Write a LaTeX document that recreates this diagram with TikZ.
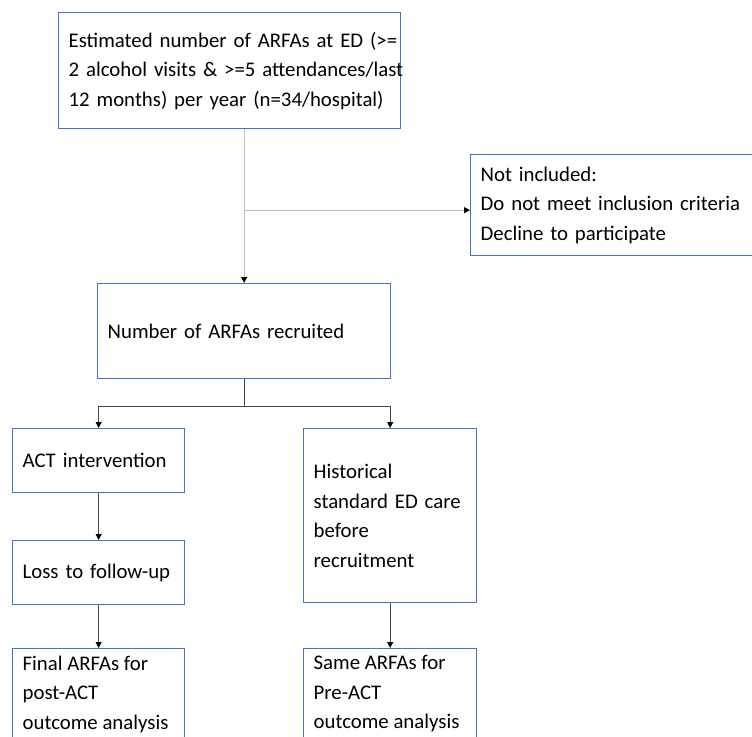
\documentclass[tikz,border=0pt]{standalone}
\usepackage{fontspec}
\setmainfont{Carlito}
\usetikzlibrary{arrows.meta,calc}
\definecolor{boxblue}{RGB}{68,114,196}
\definecolor{lightline}{RGB}{190,190,190}
\definecolor{darkline}{RGB}{70,70,70}
\begin{document}
\begin{tikzpicture}[x=1pt,y=-1pt,
  box/.style={draw=boxblue, line width=1.3pt, align=left, anchor=north west,
    inner xsep=10pt, inner ysep=0pt, font=\fontsize{20.8}{29.5}\selectfont},
  openbox/.style={draw=boxblue, line width=1.3pt, anchor=north west,
    inner xsep=10pt, inner ysep=7pt, font=\fontsize{20.8}{29.5}\selectfont},
  tip/.style={-{Triangle[length=6pt,width=6pt,color=black]}},
  light/.style={draw=lightline, line width=1pt, tip},
  dark/.style={draw=darkline, line width=1pt, tip}]
\useasboundingbox (0,0) rectangle (752,736);
\node[box, minimum width=342pt, minimum height=116pt, text width=322pt] (top) at (58,12)
  {\mbox{Estimated number of ARFAs at ED (>=}\\\mbox{2 alcohol visits \& >=5 attendances/last}\\\mbox{12 months) per year (n=34/hospital)}};
\node[box, minimum width=282pt, minimum height=101pt, text width=262pt] (notinc) at (470,154)
  {\mbox{Not included:}\\\mbox{Do not meet inclusion criteria}\\\mbox{Decline to participate}};
\node[box, minimum width=293pt, minimum height=95pt, text width=273pt] (recr) at (97,283)
  {\mbox{Number of ARFAs recruited}};
\node[box, minimum width=172pt, minimum height=64pt, text width=152pt] (act) at (12,428)
  {\mbox{ACT intervention}};
\node[box, minimum width=173pt, minimum height=174pt, text width=153pt] (hist) at (303,428)
  {\mbox{Historical}\\\mbox{standard ED care}\\\mbox{before}\\\mbox{recruitment}};
\node[box, minimum width=172pt, minimum height=64pt, text width=152pt] (loss) at (12,540)
  {\mbox{Loss to follow-up}};
\node[openbox] (final) at (12,648)
  {\parbox[t][115pt][t]{152pt}{\raggedright\mbox{Final ARFAs for}\\\mbox{post-ACT}\\\mbox{outcome analysis}}};
\node[openbox] (same) at (303,648)
  {\parbox[t][115pt][t]{153pt}{\raggedright\mbox{Same ARFAs for}\\\mbox{Pre-ACT}\\\mbox{outcome analysis}}};
\coordinate (branch) at ($(recr.north |- notinc.west)+(0,5)$);
\draw[light] (recr.north |- top.south) -- (recr.north);
\draw[light] (branch) -- (notinc.west |- branch);
\coordinate (split) at ($(recr.south)+(0,27)$);
\draw[draw=darkline, line width=1pt] (recr.south) -- (split);
\draw[dark] (split) -| (act.north);
\draw[dark] (split) -| (hist.north);
\draw[dark] (act.south) -- (loss.north);
\draw[dark] (loss.south) -- (final.north);
\draw[dark] (hist.south) -- (same.north);
\end{tikzpicture}
\end{document}
